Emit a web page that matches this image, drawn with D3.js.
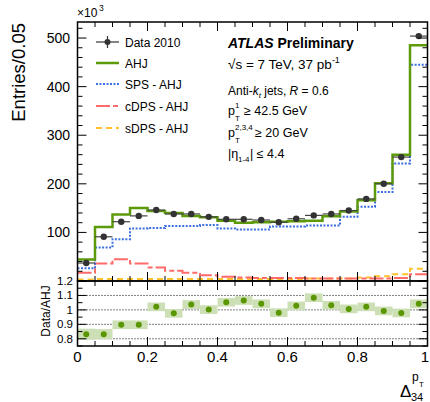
<!DOCTYPE html>
<html><head><meta charset="utf-8">
<script src="https://cdn.jsdelivr.net/npm/d3@7"></script>
<style>
body{margin:0;background:#fff;}
text{font-family:"Liberation Sans",Arial,Helvetica,sans-serif;fill:#000;}
</style></head>
<body><svg id="c" width="430" height="402"></svg>
<script>
// ---- data ----
const binCenters = [0.025,0.075,0.125,0.175,0.225,0.275,0.325,0.375,0.425,0.475,0.525,0.575,0.625,0.675,0.725,0.775,0.825,0.875,0.925,0.975];
const binWidth = 0.05;
const data2010 = [37,91,122,134,146,138,138,132,127,127,125.5,121,128,135,138,145,169,200,255,504];
const dataErr  = [2,3,3,3,3,3,3,3,3,3,3,3,3,3,3,3,3,4,4,6];
const ahj  = [44,111,137,150,144,140,134,131,124,120,121,122,123,124,133,143,166,201,260,485];
const sps  = [26,69,86,108,109,113,113,115,108,106,106,112,112,114,114,132,153,183,242,445];
const cdps = [17,36,45,36,28,21,17,12,9,7,6,6,6,5,5,5,5,5,6,14];
const sdps = [3,4,4,4,4,4,4,4,4,4,4,4,4,5,5,5,7,10,14,25];
const ratio = [0.832,0.832,0.897,0.897,1.021,0.976,1.037,1.002,1.053,1.065,1.042,0.981,1.028,1.084,1.032,1.007,1.021,0.993,0.979,1.042];
const ratioErr = [0.038,0.035,0.03,0.03,0.03,0.03,0.03,0.03,0.03,0.03,0.03,0.03,0.03,0.03,0.03,0.03,0.03,0.03,0.03,0.03];
const yTickLabels = ["100","200","300","400","500"];
const yTickValues = [100,200,300,400,500];
const rTickValues = [0.8,0.9,1.0,1.1,1.2];
const rTickLabels = ["0.8","0.9","1","1.1","1.2"];
const xTickValues = [0,0.2,0.4,0.6,0.8,1];
const xTickLabels = ["0","0.2","0.4","0.6","0.8","1"];
const legendLabels = ["Data 2010","AHJ","SPS - AHJ","cDPS - AHJ","sDPS - AHJ"];

// ---- layout ----
const L=77.5, R=427.5, T=22, B1=281, B2=346;
const x = d3.scaleLinear([0,1],[L,R]);
const y = d3.scaleLinear([0,533],[B1,T]);
const yr = d3.scaleLinear([0.75,1.2],[B2,B1]);
const svg = d3.select("#c");

const colGreen="#5c9a0a", colBlue="#3b6fe0", colRed="#ff6a6a", colYel="#ffc22e";

function stepPath(vals, ys){
  const pts=[];
  vals.forEach((v,i)=>{
    const x0=binCenters[i]-binWidth/2, x1=binCenters[i]+binWidth/2;
    pts.push([x(x0),ys(v)]); pts.push([x(x1),ys(v)]);
  });
  return d3.line()(pts);
}

const gMain = svg.append("g");
svg.append("clipPath").attr("id","cp").append("rect").attr("x",L).attr("y",T).attr("width",R-L).attr("height",B1-T);
const gh = gMain.append("g").attr("clip-path","url(#cp)");

gh.append("path").attr("d",stepPath(sdps,y)).attr("fill","none").attr("stroke",colYel).attr("stroke-width",2).attr("stroke-dasharray","6,4");
gh.append("path").attr("d",stepPath(cdps,y)).attr("fill","none").attr("stroke",colRed).attr("stroke-width",2).attr("stroke-dasharray","14,3,5,3");
gh.append("path").attr("d",stepPath(sps,y)).attr("fill","none").attr("stroke",colBlue).attr("stroke-width",2).attr("stroke-dasharray","2,1.5");
gh.append("path").attr("d",stepPath(ahj,y)).attr("fill","none").attr("stroke",colGreen).attr("stroke-width",2.5);

// data points
const gd = gMain.append("g");
binCenters.forEach((c,i)=>{
  gd.append("line").attr("x1",x(c-binWidth/2)).attr("x2",x(c+binWidth/2)).attr("y1",y(data2010[i])).attr("y2",y(data2010[i])).attr("stroke","#444").attr("stroke-width",1.2);
  gd.append("line").attr("x1",x(c)).attr("x2",x(c)).attr("y1",y(data2010[i]-dataErr[i])).attr("y2",y(data2010[i]+dataErr[i])).attr("stroke","#444").attr("stroke-width",1.2);
  gd.append("circle").attr("cx",x(c)).attr("cy",y(data2010[i])).attr("r",3.2).attr("fill","#333");
});

// ratio panel
const gr = svg.append("g");
rTickValues.slice(0,4).forEach(v=>{
  gr.append("line").attr("x1",L).attr("x2",R).attr("y1",yr(v)).attr("y2",yr(v)).attr("stroke","#000").attr("stroke-width",1).attr("stroke-dasharray","1,2");
});
binCenters.forEach((c,i)=>{
  gr.append("rect").attr("x",x(c-binWidth/2)).attr("width",x(c+binWidth/2)-x(c-binWidth/2))
    .attr("y",yr(ratio[i]+ratioErr[i])).attr("height",yr(ratio[i]-ratioErr[i])-yr(ratio[i]+ratioErr[i]))
    .attr("fill","#cddfb4");
  gr.append("circle").attr("cx",x(c)).attr("cy",yr(ratio[i])).attr("r",3).attr("fill","#5a9600");
});

// ---- frames and ticks ----
function frame(top,bot){
  svg.append("rect").attr("x",L).attr("y",top).attr("width",R-L).attr("height",bot-top).attr("fill","none").attr("stroke","#000").attr("stroke-width",1.5);
}
frame(T,B1); frame(B1,B2);
const tk = svg.append("g").attr("stroke","#000").attr("stroke-width",1);
function xTicks(yLine,dir){
  d3.range(0,1.0001,0.05).forEach(v=>{
    const major = Math.abs(v*5-Math.round(v*5))<1e-6;
    const len = major?9:5;
    tk.append("line").attr("x1",x(v)).attr("x2",x(v)).attr("y1",yLine).attr("y2",yLine+dir*len);
  });
}
xTicks(T,1); xTicks(B1,-1); xTicks(B1,1); xTicks(B2,-1);
d3.range(0,533,20).forEach(v=>{
  const major = v%100===0; const len=major?9:5;
  tk.append("line").attr("x1",L).attr("x2",L+len).attr("y1",y(v)).attr("y2",y(v));
  tk.append("line").attr("x1",R).attr("x2",R-len).attr("y1",y(v)).attr("y2",y(v));
});
d3.range(0.75,1.2001,0.05).forEach(v=>{
  const major = Math.abs(v*10-Math.round(v*10))<1e-6; const len=major?9:5;
  tk.append("line").attr("x1",L).attr("x2",L+len).attr("y1",yr(v)).attr("y2",yr(v));
  tk.append("line").attr("x1",R).attr("x2",R-len).attr("y1",yr(v)).attr("y2",yr(v));
});

// ---- labels ----
yTickValues.forEach((v,i)=>{
  svg.append("text").attr("x",70).attr("y",y(v)+5).attr("text-anchor","end").attr("font-size",14).text(yTickLabels[i]);
});
rTickValues.forEach((v,i)=>{
  svg.append("text").attr("x",73).attr("y",yr(v)+4).attr("text-anchor","end").attr("font-size",11.5).text(rTickLabels[i]);
});
xTickValues.forEach((v,i)=>{
  const xx = Math.min(x(v), 425);
  svg.append("text").attr("x",xx).attr("y",362).attr("text-anchor","middle").attr("font-size",15).text(xTickLabels[i]);
});
svg.append("text").attr("x",77).attr("y",17).attr("font-size",12).text("×10");
svg.append("text").attr("x",99).attr("y",11).attr("font-size",8.5).text("3");
svg.append("text").attr("transform","translate(25,23) rotate(-90)").attr("text-anchor","end").attr("font-size",18.5).text("Entries/0.05");
svg.append("text").attr("transform","translate(50,311) rotate(-90)").attr("text-anchor","middle").attr("font-size",12).text("Data/AHJ");
// x title
svg.append("text").attr("x",400).attr("y",397).attr("font-size",17).text("Δ");
svg.append("text").attr("x",412).attr("y",381).attr("font-size",12).text("p");
svg.append("text").attr("x",419).attr("y",387).attr("font-size",8).text("T");
svg.append("text").attr("x",411).attr("y",401).attr("font-size",11).text("34");

// ---- legend ----
const legY=[42,63,84,106,128];
const lg = svg.append("g");
const lx0=96, lx1=119;
lg.append("line").attr("x1",lx0).attr("x2",lx1).attr("y1",legY[0]).attr("y2",legY[0]).attr("stroke","#333").attr("stroke-width",1.2);
lg.append("line").attr("x1",(lx0+lx1)/2).attr("x2",(lx0+lx1)/2).attr("y1",legY[0]-6).attr("y2",legY[0]+6).attr("stroke","#333").attr("stroke-width",1.2);
lg.append("circle").attr("cx",(lx0+lx1)/2).attr("cy",legY[0]).attr("r",3).attr("fill","#333");
lg.append("line").attr("x1",lx0).attr("x2",lx1).attr("y1",legY[1]).attr("y2",legY[1]).attr("stroke",colGreen).attr("stroke-width",2.5);
lg.append("line").attr("x1",lx0).attr("x2",lx1).attr("y1",legY[2]).attr("y2",legY[2]).attr("stroke",colBlue).attr("stroke-width",2).attr("stroke-dasharray","2,1.5");
lg.append("line").attr("x1",lx0).attr("x2",lx1).attr("y1",legY[3]).attr("y2",legY[3]).attr("stroke",colRed).attr("stroke-width",2).attr("stroke-dasharray","14,3,5,3");
lg.append("line").attr("x1",lx0).attr("x2",lx1).attr("y1",legY[4]).attr("y2",legY[4]).attr("stroke",colYel).attr("stroke-width",2).attr("stroke-dasharray","6,4");
legendLabels.forEach((t,i)=>{
  lg.append("text").attr("x",125).attr("y",legY[i]+4.5).attr("font-size",12).text(t);
});

// ---- annotations ----
const ax=228;
const t1 = svg.append("text").attr("x",ax).attr("y",48).attr("font-size",14).attr("font-weight","bold");
t1.append("tspan").attr("font-style","italic").text("ATLAS");
t1.append("tspan").text(" Preliminary");
const t2 = svg.append("text").attr("x",ax).attr("y",69).attr("font-size",13.5);
t2.append("tspan").text("√s = 7 TeV, 37 pb");
t2.append("tspan").attr("dy",-6).attr("font-size",9).text("-1");
const t3 = svg.append("text").attr("x",ax).attr("y",95).attr("font-size",12);
t3.append("tspan").text("Anti-");
t3.append("tspan").attr("font-style","italic").text("k");
t3.append("tspan").attr("dy",3).attr("font-size",8).attr("font-style","italic").text("t");
t3.append("tspan").attr("dy",-3).text(" jets, ");
t3.append("tspan").attr("font-style","italic").text("R");
t3.append("tspan").text(" = 0.6");
svg.append("text").attr("x",ax).attr("y",115).attr("font-size",12.5).text("p");
svg.append("text").attr("x",ax+7).attr("y",108).attr("font-size",8).text("1");
svg.append("text").attr("x",ax+7).attr("y",121).attr("font-size",8).text("T");
svg.append("text").attr("x",ax+16).attr("y",115).attr("font-size",12.5).text("≥ 42.5 GeV");
svg.append("text").attr("x",ax).attr("y",137).attr("font-size",12.5).text("p");
svg.append("text").attr("x",ax+7).attr("y",130).attr("font-size",8).text("2,3,4");
svg.append("text").attr("x",ax+7).attr("y",143).attr("font-size",8).text("T");
svg.append("text").attr("x",ax+27).attr("y",137).attr("font-size",12.5).text("≥ 20 GeV");
svg.append("text").attr("x",ax).attr("y",158).attr("font-size",12.5).text("|η");
svg.append("text").attr("x",ax+10).attr("y",162).attr("font-size",8).text("1-4");
svg.append("text").attr("x",ax+22).attr("y",158).attr("font-size",12.5).text("| ≤ 4.4");
</script></body></html>
